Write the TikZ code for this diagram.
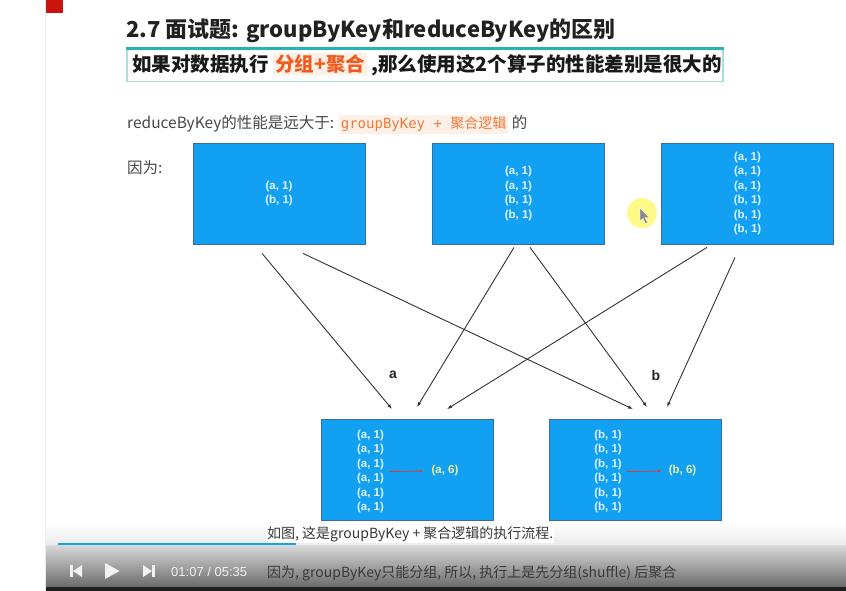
\documentclass[tikz,border=0pt]{standalone}
\usepackage{fontspec}
\setmainfont{Noto Sans CJK SC}
\newfontfamily\arialfont{Liberation Sans}
\newfontfamily\codefont{DejaVu Sans Mono}
\usetikzlibrary{arrows.meta,positioning}

\definecolor{boxblue}{HTML}{12A1F2}
\definecolor{boxedge}{HTML}{3A6C9A}
\definecolor{hlorange}{HTML}{F05A1E}
\definecolor{codeorange}{HTML}{EC7A3C}
\definecolor{hlbg}{HTML}{FDF1E7}
\definecolor{tealline}{HTML}{27B3B3}
\definecolor{teallight}{HTML}{A8DEDC}
\definecolor{slidered}{HTML}{C8140C}
\definecolor{pairtext}{HTML}{E2F1FF}
\definecolor{resulttext}{HTML}{E8EEA8}
\definecolor{mergered}{HTML}{E03A3A}
\definecolor{barblue}{HTML}{0EA5E4}
\definecolor{ctrlwhite}{HTML}{F2F2F2}

\newcommand{\hlword}[1]{{\setlength{\fboxsep}{2pt}\colorbox{hlbg}{\textcolor{hlorange}{#1}}}}
\newcommand{\hlcode}[1]{{\setlength{\fboxsep}{2pt}\colorbox{hlbg}{\textcolor{codeorange}{#1}}}}

\begin{document}
\begin{tikzpicture}[x=1pt, y=-1pt,
    datablock/.style={draw=boxedge, line width=0.8pt, fill=boxblue,
        minimum width=172pt, minimum height=101pt, inner sep=0pt,
        text=pairtext, align=center,
        font=\arialfont\bfseries\fontsize{11.5}{14.5}\selectfont},
    pairlist/.style={text=pairtext, align=left, inner sep=0pt,
        font=\arialfont\bfseries\fontsize{11.5}{14.5}\selectfont},
    result/.style={text=resulttext, inner sep=0pt,
        font=\arialfont\bfseries\fontsize{11.5}{14.5}\selectfont},
    flow/.style={draw=black!80, line width=0.9pt, -{Latex[length=5pt,width=3.5pt]}},
    merge/.style={draw=mergered, line width=0.8pt, -{Latex[length=4pt,width=3pt]}},
    keylabel/.style={font=\arialfont\bfseries\fontsize{14}{14}\selectfont, text=black!85},
    subtitle/.style={anchor=west, inner sep=1pt, text=black!78,
        font=\fontsize{14}{16}\selectfont}]

    \useasboundingbox (0,0) rectangle (846,591);

    % --------------------------
    % 背景
    % --------------------------
    \fill[white] (0,0) rectangle (846,591);
    \draw[black!8] (45.5,0) -- (45.5,591);
    \fill[slidered] (46,0) rectangle (63,13);
    \shade[top color=white, bottom color=black!8] (46,521) rectangle (846,545);
    \shade[top color=black!15, bottom color=black!58] (46,545) rectangle (846,587);
    \fill[black!88] (46,587) rectangle (846,591);

    % --------------------------
    % 标题
    % --------------------------
    \node[anchor=base west, inner sep=0pt, text=black!87,
        font=\bfseries\fontsize{22}{26}\selectfont] (title) at (126,37.5)
        {2.7 面试题: groupByKey和reduceByKey的区别};

    \node[draw=teallight, line width=1.5pt, anchor=north west,
        minimum width=596pt, minimum height=32pt] (hint) at (126,49) {};
    \draw[tealline, line width=3pt] (hint.north west) -- (hint.north east);
    \node[anchor=base west, inner sep=0pt, text=black!90,
        font=\bfseries\fontsize{19.5}{22}\selectfont] (hinttext) at (132,71.5)
        {如果对数据执行 \hlword{分组+聚合} ,那么使用这2个算子的性能差别是很大的};

    \node[anchor=base west, inner sep=0pt, text=black!72,
        font=\fontsize{15.5}{18}\selectfont] (claim) at (127,129)
        {reduceByKey的性能是远大于: \hlcode{{\codefont\fontsize{14}{16}\selectfont groupByKey\ +\ }{\fontsize{14}{16}\selectfont 聚合逻辑}} 的};
    \node[anchor=base west, inner sep=0pt, text=black!72,
        font=\fontsize{15.5}{18}\selectfont] (because) at (127,173) {因为:};

    % --------------------------
    % 上游分区
    % --------------------------
    \node[datablock] (partA) at (279,193.5) {(a, 1)\\(b, 1)};
    \node[datablock] (partB) at (518.5,193.5) {(a, 1)\\(a, 1)\\(b, 1)\\(b, 1)};
    \node[datablock] (partC) at (747.5,193.5) {(a, 1)\\(a, 1)\\(a, 1)\\(b, 1)\\(b, 1)\\(b, 1)};

    % --------------------------
    % 下游分组
    % --------------------------
    \node[datablock] (groupA) at (407.5,470) {};
    \node[pairlist] (listA) at (370.5,471.5) {(a, 1)\\(a, 1)\\(a, 1)\\(a, 1)\\(a, 1)\\(a, 1)};
    \node[result] (sumA) at (445,471) {(a, 6)};
    \draw[merge] ([xshift=5pt]listA.east) -- ([xshift=-8pt]sumA.west);

    \node[datablock] (groupB) at (635.5,470) {};
    \node[pairlist] (listB) at (608,471.5) {(b, 1)\\(b, 1)\\(b, 1)\\(b, 1)\\(b, 1)\\(b, 1)};
    \node[result] (sumB) at (682.5,471) {(b, 6)};
    \draw[merge] ([xshift=5pt]listB.east) -- ([xshift=-7pt]sumB.west);

    % shuffle
    \draw[flow] ([xshift=-17pt,yshift=-9pt]partA.south) -- ([xshift=-15.5pt,yshift=10pt]groupA.north);
    \draw[flow] ([xshift=24pt,yshift=-9pt]partA.south) -- ([xshift=-2.5pt,yshift=10pt]groupB.north);
    \draw[flow] ([xshift=-4.5pt,yshift=-3pt]partB.south) -- ([xshift=9.5pt,yshift=12pt]groupA.north);
    \draw[flow] ([xshift=11.5pt,yshift=-3pt]partB.south) -- ([xshift=11.5pt,yshift=12pt]groupB.north);
    \draw[flow] ([xshift=-40.5pt,yshift=-3pt]partC.south) -- ([xshift=39.5pt,yshift=10pt]groupA.north);
    \draw[flow] ([xshift=-12.5pt,yshift=-13pt]partC.south) -- ([xshift=31.5pt,yshift=12pt]groupB.north);

    \node[keylabel] (keyA) at (393,375) {a};
    \node[keylabel] (keyB) at (656,375) {b};

    % 鼠标
    \fill[yellow!55!white, opacity=0.85] (642,213) circle (15pt);
    \filldraw[fill=black!45, draw=white, line width=0.4pt]
        (640,208) -- (640,221) -- (643,218.5) -- (645.5,223.5) -- (647.5,222.5)
        -- (645,217.5) -- (649,217.5) -- cycle;

    % --------------------------
    % 播放器
    % --------------------------
    \draw[black!6, line width=1pt] (296,544) -- (846,544);
    \draw[barblue, line width=2pt] (58,544) -- (296,544);
    \node[subtitle, fill=white] (caption) at (266,534)
        {如图, 这是groupByKey + 聚合逻辑的执行流程.};

    \fill[ctrlwhite] (70,565) rectangle (72.5,577);
    \fill[ctrlwhite] (82,565) -- (73,571) -- (82,577) -- cycle;
    \fill[ctrlwhite] (105,563) -- (119.5,571) -- (105,579) -- cycle;
    \fill[ctrlwhite] (143,565) -- (152,571) -- (143,577) -- cycle;
    \fill[ctrlwhite] (152,565) rectangle (154.5,577);
    \node[anchor=west, inner sep=0pt, text=ctrlwhite,
        font=\arialfont\fontsize{13}{15}\selectfont] (clock) at (171,572) {01:07 / 05:35};
    \node[subtitle] (narration) at (266,573)
        {因为, groupByKey只能分组, 所以, 执行上是先分组(shuffle) 后聚合};

\end{tikzpicture}
\end{document}
